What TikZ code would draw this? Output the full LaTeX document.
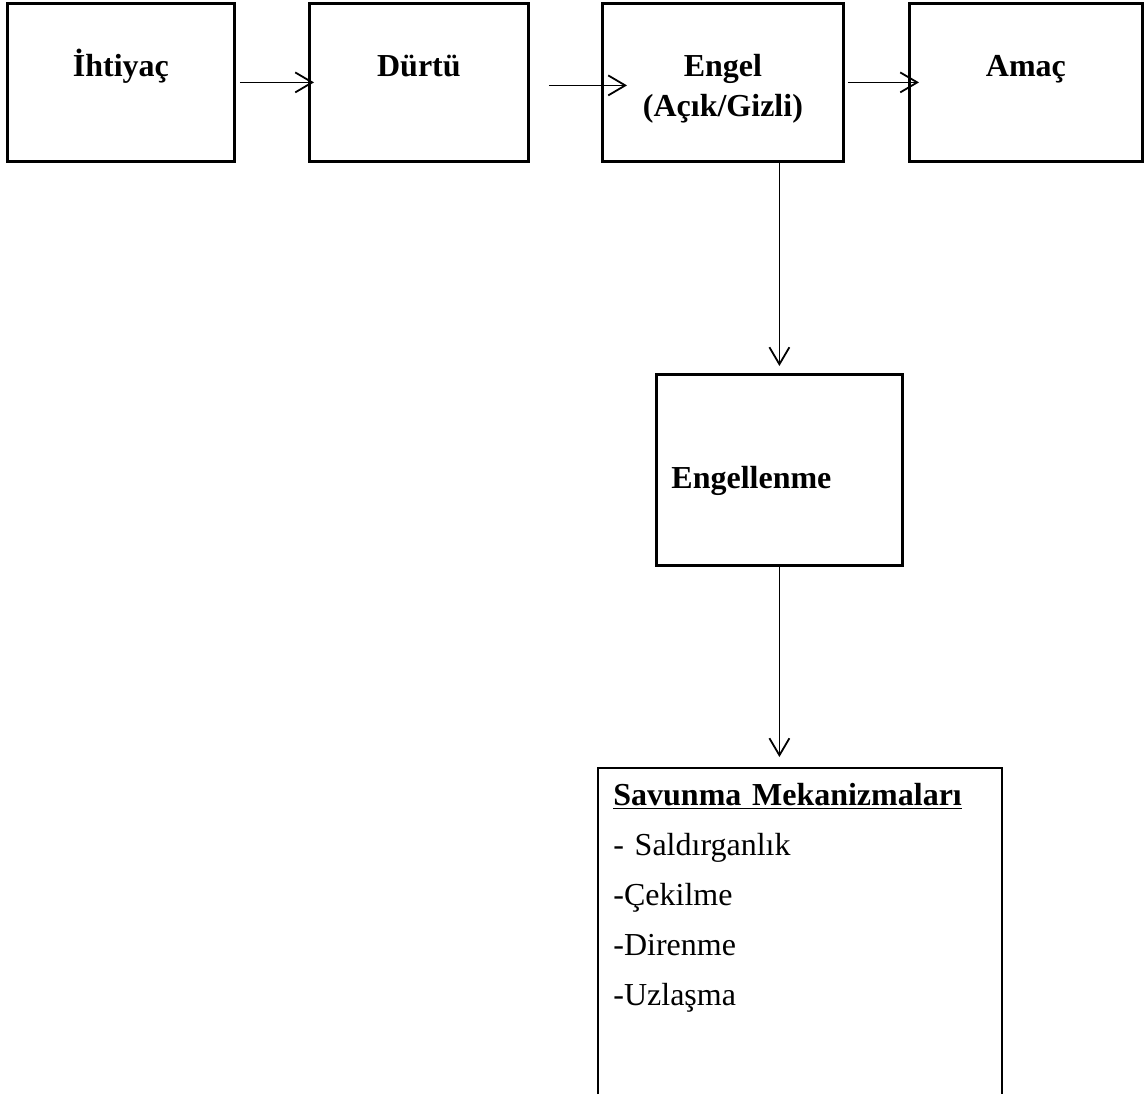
\documentclass[tikz,border=0pt]{standalone}
\usepackage{fontspec}
\setmainfont{Liberation Serif}
\usetikzlibrary{arrows.meta}

\tikzset{
  box/.style={draw, line width=1.4pt, inner sep=0pt, anchor=north west,
    font=\fontsize{16}{20}\selectfont\bfseries},
  arr/.style={line width=0.9pt, -{Straight Barb[length=8.5pt,width=10pt]}}
}

\begin{document}
\begin{tikzpicture}[x=0.5pt,y=-0.5pt]
  \useasboundingbox (0,0) rectangle (1144,1094);

  % Top row of boxes
  \node[box, minimum width=113.5pt, text height=36.5pt, text depth=42.5pt] (ihtiyac) at (6,2) {İhtiyaç};
  \node[box, minimum width=109.5pt, text height=36.5pt, text depth=42.5pt] (durtu) at (308,2) {Dürtü};
  \node[box, minimum width=120.5pt, text height=56.5pt, text depth=22.5pt, align=center] (engel) at (601,2) {Engel\\(Açık/Gizli)};
  \node[box, minimum width=116.5pt, text height=36.5pt, text depth=42.5pt] (amac) at (908,2) {Amaç};

  % Middle box
  \node[box, text width=108pt, inner xsep=7.5pt, align=left, text height=57pt, text depth=38.5pt] (engellenme) at (655,373) {Engellenme};

  % Bottom box, open at the bottom
  \node[anchor=north west, inner xsep=7.5pt, inner ysep=0pt, text width=187pt, align=left,
    text height=18.5pt, font=\fontsize{16}{25}\selectfont] (savunma) at (598,768)
    {\underline{\textbf{Savunma Mekanizmaları}}\\- Saldırganlık\\-Çekilme\\-Direnme\\-Uzlaşma};
  \draw[line width=1.4pt] (598,1094) -- (598,768) -- (1002,768) -- (1002,1094);

  % Connectors
  \draw[arr] ([xshift=2pt]ihtiyac.east) -- ([xshift=3pt]durtu.west);
  \draw[arr] ([xshift=9.5pt,yshift=-1.5pt]durtu.east) -- ([xshift=13pt,yshift=-1.5pt]engel.west);
  \draw[arr] ([xshift=1.5pt]engel.east) -- ([xshift=5.5pt]amac.west);
  \draw[arr] (engel.south -| engellenme.north) -- ([yshift=3.5pt]engellenme.north);
  \draw[arr] (engellenme.south) -- ([yshift=5.5pt]engellenme.south |- 598,768);
\end{tikzpicture}
\end{document}
